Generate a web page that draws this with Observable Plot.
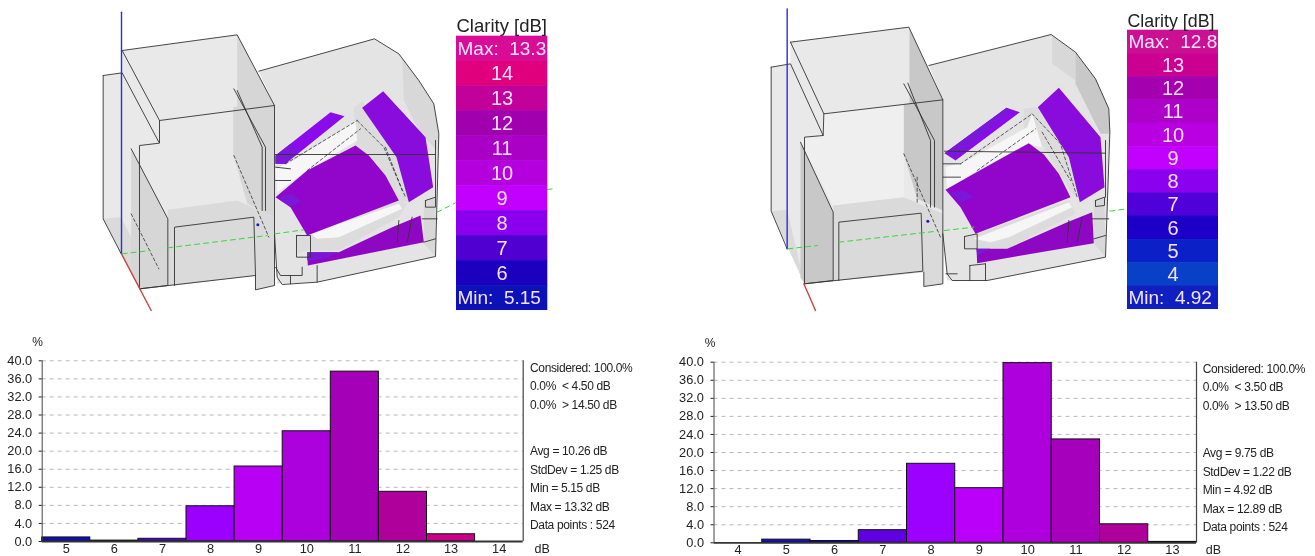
<!DOCTYPE html>
<html><head><meta charset="utf-8">
<script src="https://cdn.jsdelivr.net/npm/d3@7"></script>
<script src="https://cdn.jsdelivr.net/npm/@observablehq/plot@0.6"></script>
<style>
html,body{margin:0;padding:0;background:#fff}
#page{position:relative;width:1315px;height:556px;overflow:hidden;font-family:"Liberation Sans",Arial,sans-serif}
.stats{position:absolute;font-size:12px;letter-spacing:-.35px;color:#222;white-space:pre;line-height:18.5px;filter:blur(.3px)}
</style></head><body><div id="page"></div>
<script>
// ---------- histogram values (% of receivers per 1 dB bin) ----------
const binsA   = [5,6,7,8,9,10,11,12,13,14];
const shareA  = [0.9,0.2,0.6,7.8,16.6,24.4,37.6,11.0,1.6,0];
const colorsA = ["#0f0fb4","#1a00c8","#4a00d0","#9b00ff","#b800f5","#ac00dc","#a400b8","#b0009c","#cc0088","#e0007c"];
const binsB   = [4,5,6,7,8,9,10,11,12,13];
const shareB  = [0,0.7,0.4,2.8,17.5,12.1,39.8,22.9,4.1,0.2];
const colorsB = ["#0840c8","#1212b8","#1800c8","#6000e0","#9c00ff","#bb00fa","#ae00dc","#a600bc","#b0009c","#c8008c"];
const yTicks  = [0,4,8,12,16,20,24,28,32,36,40];

const limitsA  = ["Considered: 100.0%","0.0%  < 4.50 dB","0.0%  > 14.50 dB"];
const summaryA = ["Avg = 10.26 dB","StdDev = 1.25 dB","Min = 5.15 dB","Max = 13.32 dB","Data points : 524"];
const limitsB  = ["Considered: 100.0%","0.0%  < 3.50 dB","0.0%  > 13.50 dB"];
const summaryB = ["Avg = 9.75 dB","StdDev = 1.22 dB","Min = 4.92 dB","Max = 12.89 dB","Data points : 524"];

// ---------- colour legends ----------
const legendLabelsA = ["Max:  13.3","14","13","12","11","10","9","8","7","6","Min:  5.15"];
const legendColorsA = ["#d80c96","#e0007e","#c2009a","#a000ae","#aa00c6","#b400dc","#c000fc","#8a00ee","#5000d0","#1c00c0","#0c12b8"];
const legendLabelsB = ["Max:  12.8","13","12","11","10","9","8","7","6","5","4","Min:  4.92"];
const legendColorsB = ["#cc1094","#cc0090","#a400b0","#ad00c8","#b800e0","#c000fc","#8c00f0","#5000d8","#1c00c8","#0c20c8","#0840c8","#1020c0"];

// ---------- model parts ----------
const partNames  = ["wall","wallPale","wallDark","wallDeep","floor","hall","hallDark","slab","white","sheetA","sheetB","sheetC","sheetD","sheetBlue","edge","edgeSoft","axisZ","axisX","axisY"];
const partColors = ["#e9e9e9","#efefef","#d6d6d6","#c8c8c8","#dadada","#e4e4e4","#d8d8d8","#dcdcdc","#f6f6f6","#8a0cea","#8a0cdc","#9206cc","#8e08c4","#7a18d8","#333333","#777777","#2c2ce0","#d04040","#38d838"];

const modelA = {
  faces: [
    ["wall",[95,150,440,103,552,315,552,855,495,868,495,825,147,865,38,655,38,225,95,217]],
    ["floor",[232,628,440,600,552,650,552,855,495,868,495,825,252,855,232,855]],
    ["wallDark",[440,103,552,315,552,650,470,610,428,460,428,320,440,318]],
    ["floor",[38,655,92,650,147,760,147,865]],
    ["wallDark",[122,445,232,655,232,855,147,865,122,820]],
    ["floor",[252,680,490,650,490,825,252,855]],
    ["hall",[505,212,852,115,925,160,985,240,1030,310,1045,400,1035,768,680,845,560,850,552,700,552,315]],
    ["hallDark",[935,172,985,240,1030,310,1045,400,1040,450,990,400,940,300]],
    ["hallDark",[1000,600,1035,590,1035,768,1000,730]],
    ["slab",[790,320,815,302,918,440,955,605,925,600,860,490,795,435]],
    ["white",[555,505,610,480,795,360,800,420,650,510,560,575]],
    ["slab",[620,705,660,705,925,600,950,610,925,650,745,750,650,750,620,760]],
    ["white",[660,700,925,610,935,625,745,710,680,715]],
    ["sheetA",[555,465,720,335,762,347,585,490,555,490]],
    ["sheetBlue",[555,465,600,430,620,450,585,490,555,490]],
    ["sheetB",[815,322,878,272,1005,410,1028,560,955,605,918,470]],
    ["sheetC",[555,590,650,510,795,435,835,465,885,525,925,600,650,705,600,620]],
    ["sheetBlue",[565,590,600,580,630,600,600,620]],
    ["sheetD",[650,755,745,755,905,680,990,645,1000,725,652,795]],
    ["sheetBlue",[650,755,745,755,700,775,650,780]]
  ],
  edges: [
    [95,150,440,103,552,315,207,360,95,150],
    [207,360,207,428,147,435,147,865,232,855,232,655,122,445],
    [38,225,95,217,205,425],
    [38,225,38,655,92,760],
    [147,865,495,825,490,650,252,680,252,855],
    [552,315,552,855,495,868,495,825],
    [505,212,852,115,925,160,985,240,1030,310,1045,400,1035,768,680,845,575,852,560,830,552,700],
    [555,462,1035,462],
    [555,500,600,505],[555,540,600,540],
    [430,265,525,440,525,630],[440,270,515,440,515,630],
    [618,705,660,705,660,770,618,770,618,705],
    [680,795,680,845],[635,800,635,825,570,825,555,800],[600,850,600,825],
    [1035,420,1035,590],[1005,600,1035,590,1035,620,1005,620,1005,600],
    [1000,725,1035,715],[995,655,1040,655],
    [925,660,920,725],[965,650,950,725]
  ],
  dashes: [
    [122,640,205,805],[430,465,535,710],
    [585,490,800,360],[650,510,810,385],[800,360,880,440,945,590],[885,440,935,570]
  ],
  axes: [
    ["axisZ",[93,35,93,760]],["axisX",[93,760,182,930]],
    ["axisY",[95,760,180,750]],["axisY",[232,742,530,705]],["axisY",[553,700,640,688]],
    ["axisY",[1040,635,1095,607]],["axisY",[1370,567,1385,565]]
  ],
  marker: [[502,673]]
};

const modelB = {
  faces: [
    ["wall",[90,125,445,80,547,298,547,850,490,858,490,815,132,850,32,632,32,200,90,190]],
    ["wallPale",[132,410,188,405,190,340,430,312,430,590,218,615,120,425]],
    ["floor",[218,615,430,590,547,640,547,850,490,858,490,815,235,840,218,840]],
    ["wallDeep",[447,85,547,298,547,630,470,595,430,460,430,312,447,310]],
    ["floor",[32,632,80,628,132,850]],
    ["wallDeep",[120,425,218,635,218,840,132,850,120,830]],
    ["floor",[235,665,482,638,482,815,235,840]],
    ["hall",[505,195,872,102,945,155,1005,235,1045,325,1048,395,1035,770,680,840,560,840,547,700,547,298]],
    ["hallDark",[875,105,945,155,945,240,875,190]],
    ["wallDeep",[945,155,1005,235,1045,325,1048,400,1020,400,945,250]],
    ["hallDark",[1000,600,1032,590,1035,770,1000,730]],
    ["slab",[790,325,830,320,930,440,960,600,935,580,850,440,790,420]],
    ["white",[555,500,620,480,800,380,815,340,845,440,800,430,650,510,560,570]],
    ["slab",[612,710,650,700,925,600,945,640,740,745,650,745,612,745]],
    ["white",[640,715,925,605,935,620,745,710,690,725]],
    ["sheetA",[552,458,738,322,778,335,585,480]],
    ["sheetBlue",[552,458,738,322,750,330,585,470]],
    ["sheetB",[832,320,895,262,1020,410,1032,560,958,605,925,470]],
    ["sheetC",[555,568,640,520,805,428,850,462,895,520,930,590,645,700,600,620]],
    ["sheetBlue",[565,575,610,570,640,590,600,605]],
    ["sheetD",[648,745,740,745,920,665,995,635,1000,728,650,788]],
    ["sheetBlue",[648,745,690,745,650,765]]
  ],
  edges: [
    [90,125,445,80,547,298,190,340,90,125],
    [190,340,188,405,132,410,132,850,218,840,218,635,120,425],
    [32,200,90,190,188,405],
    [32,200,32,632,80,745],
    [132,850,487,812,482,638,235,665,235,840],
    [547,298,547,850,490,858,490,815],
    [505,195,872,102,945,155,1005,235,1045,325,1048,395,1035,770,680,840,575,840,560,820,547,700],
    [552,452,1035,458],
    [548,490,600,490],[548,530,600,530],
    [430,250,522,420,522,620],[442,248,510,420,510,620],
    [612,708,650,700,650,745,612,745,612,708],
    [675,790,675,840],[628,795,628,840],[628,795,675,790],[556,820,590,820],
    [1035,420,1035,590],[1005,600,1032,590,1032,615,1005,618,1005,600],
    [1000,715,1035,705],[995,655,1045,655],
    [925,660,920,725],[965,650,950,725]
  ],
  dashes: [
    [430,460,540,710],[470,530,470,610],
    [600,490,815,340],[650,510,825,385],[815,340,900,430,950,590],[845,395,930,540]
  ],
  axes: [
    ["axisZ",[80,25,80,745]],["axisX",[130,850,165,930]],
    ["axisY",[82,745,170,735]],["axisY",[235,725,530,692]],["axisY",[552,690,640,680]],
    ["axisY",[1048,632,1100,625]]
  ],
  marker: [[502,662]]
};

// ---------- helpers ----------
const page = document.getElementById("page");
function place(svg, left, top){ svg.style.position="absolute"; svg.style.left=left+"px"; svg.style.top=top+"px"; svg.style.maxWidth="none"; page.appendChild(svg); return svg; }
function pointsOf(groups){
  const rows=[];
  groups.forEach(([part,flat],id)=>{ for(let i=0;i<flat.length;i+=2) rows.push({id,part,x:flat[i],y:flat[i+1]}); });
  return rows;
}
function drawModel(model,left){
  const svg = Plot.plot({
    width:480,height:320,margin:0,
    x:{domain:[0,1440],axis:null}, y:{domain:[960,0],axis:null},
    color:{domain:partNames,range:partColors},
    style:{background:"transparent",filter:"blur(.45px)"},
    marks:[
      Plot.line(pointsOf(model.faces),{x:"x",y:"y",z:"id",fill:"part",stroke:null,curve:"linear-closed"}),
      Plot.line(pointsOf(model.edges.map(e=>["edge",e])),{x:"x",y:"y",z:"id",stroke:"part",strokeWidth:.9}),
      Plot.line(pointsOf(model.dashes.map(e=>["edge",e])),{x:"x",y:"y",z:"id",stroke:"part",strokeWidth:.8,strokeDasharray:"3,2.5"}),
      Plot.line(pointsOf(model.axes.filter(a=>a[0]!=="axisY")),{x:"x",y:"y",z:"id",stroke:"part",strokeWidth:1.4}),
      Plot.line(pointsOf(model.axes.filter(a=>a[0]==="axisY")),{x:"x",y:"y",z:"id",stroke:"part",strokeWidth:1,strokeDasharray:"5,4"}),
      Plot.dot(model.marker,{x:d=>d[0],y:d=>d[1],r:1.5,fill:"#1818d0",stroke:null})
    ]
  });
  place(svg,left,0);
}
function drawLegend(labels,colors,left,top,width,height,mt,mr,titleSize,titleDy){
  const ends=[labels[0],labels[labels.length-1]];
  const mids=labels.slice(1,-1);
  const svg = Plot.plot({
    width,height,marginTop:mt,marginBottom:0,marginLeft:0,marginRight:mr,
    x:{axis:null,domain:[0,1]},
    y:{type:"band",domain:labels,padding:0,round:false,axis:null},
    color:{domain:labels,range:colors},
    style:{background:"transparent",filter:"blur(.6px)",fontFamily:"Liberation Sans"},
    marks:[
      Plot.cell(labels,{y:d=>d,fill:d=>d,stroke:d=>d,strokeWidth:.6}),
      Plot.text(["Clarity [dB]"],{frameAnchor:"top-left",lineAnchor:"bottom",dy:titleDy,text:d=>d,fontSize:titleSize,fill:"#222"}),
      Plot.text(mids,{y:d=>d,text:d=>d,frameAnchor:"middle",fontSize:20,fill:"#f8e0ff"}),
      Plot.text(ends,{y:d=>d,text:d=>d,frameAnchor:"left",fontSize:19,fill:"#f4e4ff",dx:1})
    ]
  });
  place(svg,left,top);
}
function drawHistogram(bins,share,colors,domain,left,width,mLeft,mRight,mTop,mBottom,pct,dB){
  const svg = Plot.plot({
    width,height:226,marginLeft:mLeft,marginRight:mRight,marginTop:mTop,marginBottom:mBottom,
    x:{domain}, y:{domain:[0,40]},
    color:{domain:bins,range:colors,type:"ordinal"},
    style:{background:"transparent",fontFamily:"Liberation Sans",filter:"blur(.25px)",color:"#222"},
    marks:[
      Plot.ruleY(yTicks.slice(1),{stroke:"#b8b8b8",strokeDasharray:"4,4"}),
      Plot.rectY(bins,{x1:b=>b-.5,x2:b=>b+.5,y:(b,i)=>share[i],fill:b=>b,stroke:"#111",strokeWidth:1}),
      Plot.ruleX([domain[0]],{stroke:"#444"}),
      Plot.ruleX([domain[1]],{stroke:"#444",strokeWidth:1.2}),
      Plot.ruleY([0],{stroke:"#333",strokeWidth:1.8}),
      Plot.axisY(yTicks,{anchor:"left",tickSize:3,tickPadding:7,fontSize:12.8,label:null,tickFormat:d=>d.toFixed(1)}),
      Plot.axisX(bins,{anchor:"bottom",tickSize:0,tickPadding:2,fontSize:12.8,label:null,tickFormat:d=>String(d)}),
      Plot.text(["%"],{frameAnchor:"top-left",textAnchor:"middle",lineAnchor:"middle",dx:pct[0],dy:pct[1],text:d=>d,fontSize:12}),
      Plot.text(["dB"],{frameAnchor:"bottom-right",textAnchor:"middle",lineAnchor:"middle",dx:dB[0],dy:dB[1],text:d=>d,fontSize:12.5})
    ]
  });
  place(svg,left,330);
}
function drawStats(lines,left,top){
  const d=document.createElement("div");
  d.className="stats"; d.style.left=left+"px"; d.style.top=top+"px";
  d.textContent=lines.join("\n");
  page.appendChild(d);
}

// ---------- draw ----------
drawModel(modelA,90);
drawModel(modelB,760);
drawLegend(legendLabelsA,legendColorsA,456,10,96,300,26,5,18.5,-5);
drawLegend(legendLabelsB,legendColorsB,1127,6,91,303,24,0,17.8,-4);
drawHistogram(binsA,shareA,colorsA,[4.5,14.5],0,552,41.7,29.3,30.3,15,[-4.7,-18.3],[19,7]);
drawHistogram(binsB,shareB,colorsB,[3.5,13.5],662,562,51.5,28,31.7,13.7,[-4,-18.7],[17,7]);
drawStats(limitsA,530,358.7);
drawStats(summaryA,530,442.4);
drawStats(limitsB,1202.7,359.7);
drawStats(summaryB,1202.7,444);
</script></body></html>
